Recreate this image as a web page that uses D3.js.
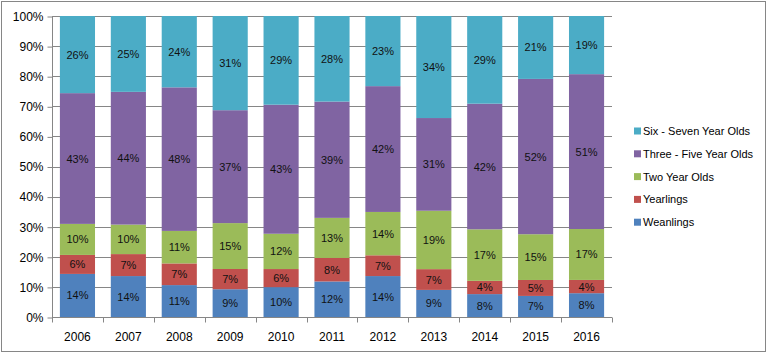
<!DOCTYPE html>
<html>
<head>
<meta charset="utf-8">
<script src="https://cdn.jsdelivr.net/npm/d3@7"></script>
<style>
  body { margin: 0; background: #fff; }
  text { font-family: "Liberation Sans", Arial, sans-serif; }
</style>
</head>
<body>
<script>
// years along the x axis
let years = ['2006', '2007', '2008', '2009', '2010', '2011', '2012', '2013', '2014', '2015', '2016'];

// share of each age group per year (percent)
let weanlings = [14.3, 13.6, 10.6, 9.2, 9.9, 11.8, 13.6, 9.0, 7.6, 7.0, 7.9];
let yearlings = [6.3, 7.3, 7.2, 6.7, 6.0, 7.8, 6.9, 6.9, 4.4, 5.3, 4.4];
let twoYear = [10.3, 9.8, 10.8, 15.2, 11.7, 13.3, 14.4, 19.4, 17.1, 15.2, 16.9];
let threeFive = [43.4, 44.1, 47.7, 37.4, 42.8, 38.6, 41.8, 30.8, 41.7, 51.6, 51.4];
let sixSeven = [25.6, 25.2, 23.7, 31.2, 29.4, 28.4, 23.3, 33.9, 29.1, 20.9, 19.3];

let seriesNames = ['Weanlings', 'Yearlings', 'Two Year Olds', 'Three - Five Year Olds', 'Six - Seven Year Olds'];
let seriesValues = [weanlings, yearlings, twoYear, threeFive, sixSeven];
let colors = ['#4F81BD', '#C0504D', '#9BBB59', '#8064A2', '#4BACC6'];

let yTicks = [0, 0.1, 0.2, 0.3, 0.4, 0.5, 0.6, 0.7, 0.8, 0.9, 1];

let width = 767, height = 353;

let svg = d3.select('body').append('svg')
  .attr('width', width)
  .attr('height', height);

// outer frame
svg.append('rect')
  .attr('x', 1.5).attr('y', 1.5)
  .attr('width', width - 3).attr('height', height - 3)
  .attr('fill', 'none')
  .attr('stroke', '#868686');

let table = years.map((y, i) => {
  let row = {year: y};
  seriesNames.forEach((s, j) => { row[s] = seriesValues[j][i]; });
  return row;
});

let stack = d3.stack()
  .keys(seriesNames)
  .offset(d3.stackOffsetExpand);
let stacked = stack(table);

let x = d3.scaleBand()
  .domain(years)
  .range([52, 612])
  .paddingInner(0.31)
  .paddingOuter(0.155);

let y = d3.scaleLinear()
  .domain([0, 1])
  .range([317, 16]);

// gridlines
svg.append('g')
  .selectAll('line')
  .data(yTicks.slice(1))
  .enter().append('line')
  .attr('x1', 52).attr('x2', 612)
  .attr('y1', d => Math.round(y(d)) + 0.5)
  .attr('y2', d => Math.round(y(d)) + 0.5)
  .attr('stroke', '#868686');

// y axis
let yAxis = d3.axisLeft(y)
  .tickValues(yTicks)
  .tickFormat(d3.format('.0%'))
  .tickSize(5)
  .tickPadding(4);

let gy = svg.append('g')
  .attr('transform', 'translate(52.5,0.5)')
  .call(yAxis);
gy.selectAll('text').attr('font-size', 12).attr('fill', '#000')
  .attr('font-family', '"Liberation Sans", Arial, sans-serif');
gy.selectAll('line,path').attr('stroke', '#868686');
gy.select('.domain').attr('d', 'M0,' + y(0) + 'V' + y(1));

// bars
let layers = svg.append('g')
  .selectAll('g')
  .data(stacked)
  .enter().append('g')
  .attr('fill', (d, i) => colors[i]);

layers.selectAll('rect')
  .data(d => d)
  .enter().append('rect')
  .attr('x', d => x(d.data.year))
  .attr('width', x.bandwidth())
  .attr('y', d => y(d[1]))
  .attr('height', d => y(d[0]) - y(d[1]));

// value labels
layers.selectAll('text')
  .data((d, i) => d.map(v => ({v: v, key: d.key})))
  .enter().append('text')
  .attr('x', d => x(d.v.data.year) + x.bandwidth() / 2)
  .attr('y', d => (y(d.v[0]) + y(d.v[1])) / 2 + 4)
  .attr('text-anchor', 'middle')
  .attr('font-size', 11)
  .attr('fill', '#111')
  .text(d => Math.round(d.v.data[d.key]) + '%');

// x axis
let gx = svg.append('g')
  .attr('transform', 'translate(0,' + (y(0) + 0.5) + ')');
gx.append('line')
  .attr('x1', 52).attr('x2', 612)
  .attr('stroke', '#868686');
let step = x.step();
gx.selectAll('.tick')
  .data(d3.range(years.length + 1))
  .enter().append('line')
  .attr('x1', i => Math.round(52 + i * step) + 0.5)
  .attr('x2', i => Math.round(52 + i * step) + 0.5)
  .attr('y1', 0).attr('y2', 5)
  .attr('stroke', '#868686');
gx.selectAll('text')
  .data(years)
  .enter().append('text')
  .attr('x', d => x(d) + x.bandwidth() / 2)
  .attr('y', 23)
  .attr('text-anchor', 'middle')
  .attr('font-size', 12)
  .text(d => d);

// legend, top entry is the top series
let legend = svg.append('g')
  .selectAll('g')
  .data(seriesNames.slice().reverse())
  .enter().append('g')
  .attr('transform', (d, i) => 'translate(634,' + (131 + i * 22.8) + ')');

legend.append('rect')
  .attr('x', 0).attr('y', -3.5)
  .attr('width', 7).attr('height', 7)
  .attr('fill', d => colors[seriesNames.indexOf(d)]);

legend.append('text')
  .attr('x', 9).attr('y', 4)
  .attr('font-size', 11)
  .text(d => d);
</script>
</body>
</html>
